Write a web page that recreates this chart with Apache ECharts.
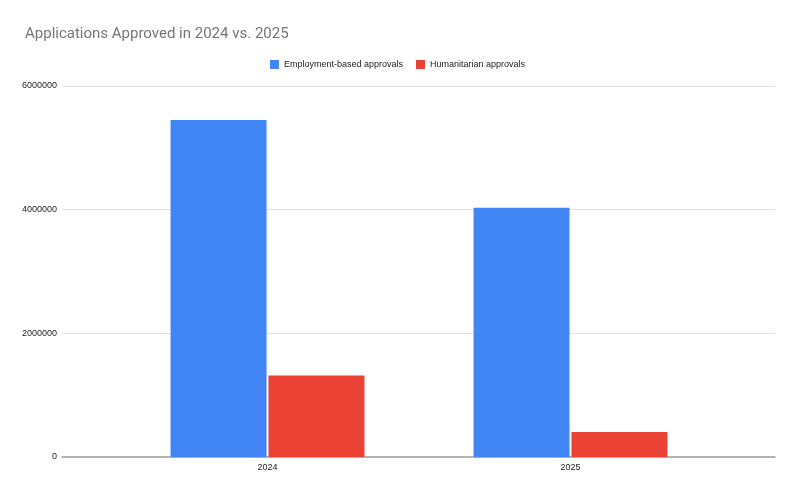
<!DOCTYPE html>
<html>
<head>
<meta charset="utf-8">
<script src="https://cdn.jsdelivr.net/npm/echarts@6/dist/echarts.min.js"></script>
<style>
  html, body { margin: 0; padding: 0; background: #fff; }
  #chart { width: 795px; height: 490px; }
</style>
</head>
<body>
<div id="chart"></div>
<script>
// 数据
var years = ['2024', '2025'];
var employmentApprovals = [5450000, 4030000];
var humanitarianApprovals = [1320000, 405000];
var yTicks = { min: 0, max: 6000000, interval: 2000000 };

var chart = echarts.init(document.getElementById('chart'));

chart.setOption({
    animation: false,
    title: {
        text: 'Applications Approved in 2024 vs. 2025',
        left: 20,
        top: 22,
        textStyle: {
            fontFamily: 'Roboto',
            fontSize: 15,
            fontWeight: 'normal',
            color: '#757575'
        }
    },
    legend: {
        top: 55,
        left: 'center',
        icon: 'rect',
        itemWidth: 9,
        itemHeight: 9,
        itemGap: 13,
        textStyle: { fontFamily: 'Liberation Sans', fontSize: 9, color: '#222' }
    },
    // grid 0: 网格线和坐标轴, grid 1: 柱子
    grid: [
        { left: 62, right: 20, top: 86, bottom: 33 },
        { left: 116, right: 73, top: 86, bottom: 33 }
    ],
    xAxis: [{
        gridIndex: 0,
        type: 'category',
        data: years,
        axisLabel: { show: false },
        axisTick: { show: false },
        axisLine: { lineStyle: { color: '#9e9e9e', width: 1.5 } }
    }, {
        gridIndex: 1,
        type: 'category',
        data: years,
        axisTick: { show: false },
        axisLine: { show: false },
        axisLabel: { fontFamily: 'Liberation Sans', fontSize: 9, color: '#222', margin: 6 }
    }],
    yAxis: [{
        gridIndex: 0,
        type: 'value',
        min: yTicks.min,
        max: yTicks.max,
        interval: yTicks.interval,
        axisLine: { show: false },
        axisTick: { show: false },
        axisLabel: {
            fontFamily: 'Liberation Sans',
            fontSize: 9,
            color: '#222',
            margin: 5,
            formatter: function (v) { return String(v); }
        },
        splitLine: { lineStyle: { color: '#e0e0e0' } }
    }, {
        gridIndex: 1,
        type: 'value',
        min: yTicks.min,
        max: yTicks.max,
        interval: yTicks.interval,
        show: false,
        splitLine: { show: false }
    }],
    series: [{
        name: 'Employment-based approvals',
        type: 'bar',
        xAxisIndex: 1,
        yAxisIndex: 1,
        data: employmentApprovals,
        barWidth: 96,
        barGap: '2%',
        itemStyle: { color: '#4285F4' }
    }, {
        name: 'Humanitarian approvals',
        type: 'bar',
        xAxisIndex: 1,
        yAxisIndex: 1,
        data: humanitarianApprovals,
        barWidth: 96,
        itemStyle: { color: '#EA4335' }
    }]
});
</script>
</body>
</html>
